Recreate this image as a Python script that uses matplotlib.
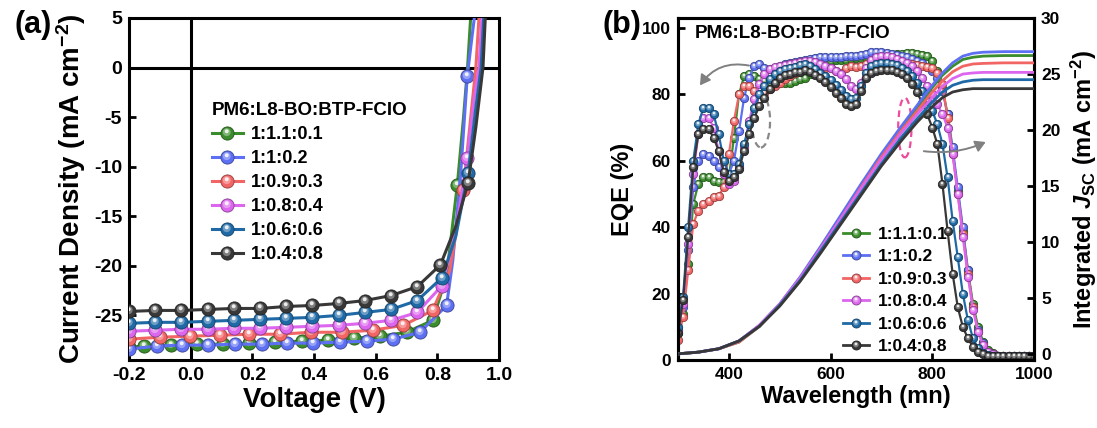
import numpy as np
import matplotlib
matplotlib.use("Agg")
import matplotlib.pyplot as plt
from matplotlib.path import Path
from matplotlib.lines import Line2D
from matplotlib.patches import Ellipse, FancyArrowPatch

plt.rcParams['font.family'] = ['Liberation Sans', 'DejaVu Sans']
plt.rcParams['font.weight'] = 'bold'
plt.rcParams['axes.labelweight'] = 'bold'
plt.rcParams['axes.unicode_minus'] = False
plt.rcParams['mathtext.fontset'] = 'custom'
plt.rcParams['mathtext.rm'] = 'Liberation Sans:bold'
plt.rcParams['mathtext.it'] = 'Liberation Sans:bold:italic'
plt.rcParams['mathtext.bf'] = 'Liberation Sans:bold'

# ---------------- data ----------------
labels = ['1:1.1:0.1', '1:1:0.2', '1:0.9:0.3', '1:0.8:0.4', '1:0.6:0.6', '1:0.4:0.8']
colors = ['#3a8c2c', '#5d6ff2', '#f26565', '#dc66ee', '#1f6aa6', '#383838']

# J-V curves (V in volts, J in mA cm^-2); markers at listed indices
jv_v_green = [-0.2, -0.15, -0.065, 0.02, 0.105, 0.19, 0.275, 0.36, 0.445, 0.53, 0.615, 0.70, 0.785, 0.83, 0.865, 0.885, 0.898, 0.91]
jv_j_green = [-28.2, -28.1, -28.0, -27.9, -27.9, -27.8, -27.7, -27.6, -27.5, -27.3, -27.1, -26.7, -25.5, -21.0, -11.8, -5.0, 0.0, 6.0]
jv_m_green = list(range(13)) + [14]

jv_v_blue = [-0.2, -0.11, -0.029, 0.057, 0.144, 0.23, 0.311, 0.398, 0.484, 0.571, 0.657, 0.744, 0.83, 0.85, 0.875, 0.897, 0.912, 0.924]
jv_j_blue = [-28.4, -28.1, -28.0, -28.0, -27.9, -27.9, -27.8, -27.8, -27.7, -27.6, -27.4, -26.7, -24.0, -19.5, -11.0, -0.9, 3.0, 6.0]
jv_m_blue = list(range(13)) + [15]

jv_v_red = [-0.2, -0.1, -0.003, 0.095, 0.19, 0.29, 0.39, 0.49, 0.59, 0.69, 0.785, 0.84, 0.884, 0.91, 0.925, 0.937]
jv_j_red = [-27.4, -27.2, -27.1, -27.0, -26.9, -26.9, -26.7, -26.7, -26.5, -26.0, -24.5, -20.5, -12.4, -4.5, 0.0, 6.0]
jv_m_red = list(range(11)) + [12]

jv_v_mag = [-0.2, -0.115, -0.03, 0.055, 0.14, 0.225, 0.31, 0.395, 0.48, 0.565, 0.65, 0.735, 0.815, 0.86, 0.897, 0.92, 0.935, 0.946]
jv_j_mag = [-26.6, -26.5, -26.4, -26.4, -26.3, -26.3, -26.2, -26.1, -26.0, -25.8, -25.5, -24.7, -22.0, -16.5, -9.1, -3.0, 0.0, 6.0]
jv_m_mag = list(range(13)) + [14]

jv_v_teal = [-0.2, -0.115, -0.03, 0.055, 0.14, 0.225, 0.31, 0.395, 0.48, 0.565, 0.65, 0.735, 0.815, 0.86, 0.9, 0.925, 0.942, 0.952]
jv_j_teal = [-25.8, -25.7, -25.7, -25.6, -25.5, -25.4, -25.3, -25.2, -25.0, -24.7, -24.4, -23.5, -21.2, -17.0, -10.6, -4.0, 0.0, 6.0]
jv_m_teal = list(range(13)) + [14]

jv_v_black = [-0.2, -0.115, -0.03, 0.055, 0.14, 0.225, 0.31, 0.395, 0.48, 0.565, 0.65, 0.735, 0.81, 0.86, 0.9, 0.925, 0.948, 0.957]
jv_j_black = [-24.6, -24.5, -24.5, -24.4, -24.3, -24.3, -24.1, -24.0, -23.8, -23.5, -23.0, -22.1, -19.9, -16.0, -11.6, -6.0, 0.0, 6.0]
jv_m_black = list(range(13)) + [14]

# EQE spectra, 300-1000 nm every 10 nm
wavelength = list(range(300, 1001, 10))
eqe_green = [8, 14, 29, 47, 53, 55, 55, 54, 53.5, 53.5,
             55, 67, 80, 85.5, 86, 85.5, 84.5, 84, 83.5, 83.3,
             83.3, 83.3, 83.5, 84, 84.5, 85, 86, 87.5, 89, 89.5,
             90, 90.3, 90.5, 90.5, 90.8, 91, 91, 91.3, 91.5, 91.8,
             92, 92, 92, 92.2, 92.3, 92.4, 92.5, 92.3, 92, 91.5,
             90, 87, 82, 74, 63, 51, 39, 27, 17, 10,
             5.5, 3, 2, 1.3, 1.3, 1.3, 1.3, 1.3, 1.3, 1.3, 1.3]
eqe_blue = [9, 16, 33, 52, 60, 62, 61.5, 60, 58, 56,
            56, 60, 69, 79, 85, 88.5, 89, 88, 87.5, 88,
            88.5, 89, 89.5, 89.8, 90.2, 90.5, 90.8, 91, 91.2, 91.3,
            91.3, 91.3, 91.3, 91.5, 91.5, 91.5, 92, 92.3, 92.7, 92.7,
            92.7, 92.5, 92.3, 92, 91.7, 91.3, 90.8, 90.2, 89.3, 88.3,
            87, 85, 81, 74, 64, 52, 40, 27, 16, 9,
            5, 2.5, 1.8, 1.3, 1.3, 1.3, 1.3, 1.3, 1.3, 1.3, 1.3]
eqe_red = [6, 13, 27, 41, 45, 47, 48, 49, 49.5, 52,
           62, 72, 80, 82.5, 82.5, 81, 80, 80.5, 81.5, 82.5,
           83.5, 84.5, 85.5, 86.5, 87.3, 88, 88.3, 88.3, 88.2, 88,
           87.8, 87, 86.5, 88, 88.5, 88.3, 88.5, 89, 89.3, 89.5,
           89.5, 89.5, 89.5, 89.5, 89.3, 89, 89, 88.8, 88.5, 88.2,
           87.8, 86.5, 83, 73, 62, 50, 38, 26, 16, 8.5,
           4.5, 2.5, 1.8, 1.3, 1.3, 1.3, 1.3, 1.3, 1.3, 1.3, 1.3]
eqe_mag = [9, 17, 35, 56, 68, 73, 73, 70, 63, 56,
           53, 54, 58, 64, 72, 78.5, 83, 86, 87.5, 88.2,
           88.5, 88.8, 89, 89.3, 89.6, 90, 90, 89.6, 89, 88.5,
           88, 87, 86, 84.5, 82.5, 81.5, 83.5, 88, 90.5, 91.2,
           91.5, 91.5, 91.2, 90.8, 90.2, 89.5, 88.5, 87, 85, 82.5,
           80, 77, 74, 70, 62, 50, 37, 25, 15, 8.5,
           4.5, 2.5, 1.8, 1.3, 1.3, 1.3, 1.3, 1.3, 1.3, 1.3, 1.3]
eqe_teal = [10, 19, 40, 60, 71, 76, 76, 74, 68, 60,
            56, 56, 59, 65, 71, 76, 80, 82.5, 84.5, 86,
            87, 87.5, 88, 88.3, 88.7, 89, 88.5, 87.5, 86.5, 85.5,
            84.3, 82.8, 81.3, 79.5, 78.5, 78.8, 82.5, 86.5, 88.5, 89,
            89.3, 89.3, 89, 88.7, 88, 87, 85.5, 83.5, 81, 78,
            75, 71, 65, 55, 42, 31, 20, 12, 6.5, 3.5,
            2, 1.5, 1.3, 1.3, 1.3, 1.3, 1.3, 1.3, 1.3, 1.3, 1.3]
eqe_black = [8, 18, 37, 58, 68, 69.5, 69.5, 67, 63, 56.5,
             54, 55, 57.5, 63, 68, 73, 76.5, 79, 81.5, 83.5,
             85, 85.7, 86.2, 86.6, 86.8, 87.2, 86.8, 85.8, 85, 83.6,
             82.2, 80.5, 79, 77.2, 76.5, 77, 81, 85, 86.5, 87,
             87.3, 87.3, 87.2, 86.8, 86, 85, 83, 80.6, 77.5, 74,
             70, 65, 53, 39, 26, 16, 10, 6.5, 4, 2.5,
             1.8, 1.3, 1.3, 1.3, 1.3, 1.3, 1.3, 1.3, 1.3, 1.3, 1.3]

# Integrated Jsc (mA cm^-2)
wl_jsc = [300, 340, 380, 420, 460, 500, 540, 580, 620, 660, 700, 740, 770, 800, 820, 840, 860, 880, 900, 940, 1000]
jsc_green = [0.05, 0.2, 0.5, 1.1, 2.5, 4.4, 6.7, 9.4, 12.2, 15.0, 17.7, 20.2, 22.0, 23.8, 24.9, 25.7, 26.3, 26.5, 26.6, 26.65, 26.65]
jsc_blue = [0.05, 0.2, 0.5, 1.2, 2.6, 4.5, 6.9, 9.6, 12.4, 15.2, 17.9, 20.4, 22.2, 24.0, 25.1, 26.0, 26.6, 26.85, 26.95, 27.0, 27.0]
jsc_red = [0.05, 0.2, 0.5, 1.1, 2.5, 4.4, 6.7, 9.4, 12.1, 14.9, 17.6, 20.0, 21.7, 23.4, 24.4, 25.2, 25.7, 25.9, 25.95, 26.0, 26.0]
jsc_mag = [0.05, 0.2, 0.5, 1.2, 2.6, 4.5, 6.8, 9.4, 12.1, 14.8, 17.4, 19.8, 21.4, 22.9, 23.9, 24.6, 25.0, 25.1, 25.15, 25.15, 25.15]
jsc_teal = [0.05, 0.2, 0.5, 1.2, 2.5, 4.4, 6.6, 9.2, 11.8, 14.4, 17.0, 19.4, 21.0, 22.5, 23.4, 24.0, 24.3, 24.45, 24.5, 24.5, 24.5]
jsc_black = [0.05, 0.2, 0.5, 1.2, 2.5, 4.3, 6.5, 9.0, 11.6, 14.2, 16.8, 19.1, 20.7, 22.1, 22.9, 23.4, 23.6, 23.7, 23.7, 23.7, 23.7]

jv_v = [jv_v_green, jv_v_blue, jv_v_red, jv_v_mag, jv_v_teal, jv_v_black]
jv_j = [jv_j_green, jv_j_blue, jv_j_red, jv_j_mag, jv_j_teal, jv_j_black]
jv_m = [jv_m_green, jv_m_blue, jv_m_red, jv_m_mag, jv_m_teal, jv_m_black]
eqe = [eqe_green, eqe_blue, eqe_red, eqe_mag, eqe_teal, eqe_black]
jsc = [jsc_green, jsc_blue, jsc_red, jsc_mag, jsc_teal, jsc_black]

# ---------------- helpers ----------------
def hl_marker(cx, cy, r):
    anchor = Path([[0.5, 0.5], [0.5, 0.5]], [Path.MOVETO, Path.LINETO])
    return Path.make_compound_path(anchor, Path.circle((cx, cy), r))

HL1 = hl_marker(-0.06, 0.10, 0.30)
HL2 = hl_marker(-0.06, 0.17, 0.15)

def darker(c, f=0.6):
    r, g, b = matplotlib.colors.to_rgb(c)
    return (r * f, g * f, b * f)

def ball_series(ax, x, y, color, ms, lw, mark_idx=None, z=2):
    x = np.asarray(x, float); y = np.asarray(y, float)
    if mark_idx is None:
        mark_idx = np.arange(len(x))
    ax.plot(x, y, '-', color=color, lw=lw, zorder=z)
    mx, my = x[mark_idx], y[mark_idx]
    ax.plot(mx, my, 'o', ms=ms, mfc=color, mec=darker(color), mew=0.6, ls='none', zorder=z + 0.1)
    ax.plot(mx, my, ls='none', marker=HL1, ms=ms, mfc='white', mew=0, alpha=0.35, zorder=z + 0.2)
    ax.plot(mx, my, ls='none', marker=HL2, ms=ms, mfc='white', mew=0, alpha=0.85, zorder=z + 0.3)

def legend_handles(ms, lw):
    hs = []
    for c in colors:
        h0 = Line2D([], [], color=c, lw=lw, marker='o', ms=ms, mfc=c, mec=darker(c), mew=0.6)
        h1 = Line2D([], [], ls='none', marker=HL1, ms=ms, mfc='white', mew=0, alpha=0.35)
        h2 = Line2D([], [], ls='none', marker=HL2, ms=ms, mfc='white', mew=0, alpha=0.85)
        hs.append((h0, h1, h2))
    return hs

def style_axes(ax, tsize):
    for s in ax.spines.values():
        s.set_linewidth(2.2)
    ax.tick_params(direction='in', width=2, length=5, labelsize=tsize, pad=5)

# ---------------- figure ----------------
fig = plt.figure(figsize=(10.97, 4.28), dpi=100)
W, H = 1097, 428
axa = fig.add_axes([129 / W, 1 - 360 / H, 370 / W, 342 / H])
axb = fig.add_axes([678 / W, 1 - 360 / H, 356 / W, 342 / H])

# Panel (a)
for i in range(6):
    ball_series(axa, jv_v[i], jv_j[i], colors[i], ms=9.5, lw=2.2, mark_idx=jv_m[i], z=2 + i)
axa.axhline(0, color='black', lw=2.2, zorder=1)
axa.axvline(0, color='black', lw=2.2, zorder=1)
axa.set_xlim(-0.2, 1.0)
axa.set_ylim(-29.5, 5)
axa.set_xticks(np.arange(-0.2, 1.01, 0.2))
axa.set_xticklabels([f'{t:.1f}' for t in np.arange(-0.2, 1.01, 0.2)])
axa.set_yticks([5, 0, -5, -10, -15, -20, -25])
style_axes(axa, 14)
axa.set_xlabel('Voltage (V)', fontsize=20, labelpad=2)
axa.set_ylabel('Current Density (mA cm$^{-2}$)', fontsize=20, labelpad=4)
lga = axa.legend(legend_handles(9.5, 2.2), labels, loc='upper left',
                 bbox_to_anchor=(0.19, 0.791), frameon=False, fontsize=13,
                 title='PM6:L8-BO:BTP-FCIO', title_fontproperties={'weight': 'bold', 'size': 13.5},
                 alignment='left', handlelength=1.7, handletextpad=0.45,
                 labelspacing=0.39, borderpad=0.2, numpoints=1)

# Panel (b)
for i in range(6):
    ball_series(axb, wavelength, eqe[i], colors[i], ms=6, lw=1.6, z=2 + i)
axb.set_xlim(300, 1000)
axb.set_ylim(0, 103)
axb.set_xticks([400, 600, 800, 1000])
axb.set_yticks([0, 20, 40, 60, 80, 100])
style_axes(axb, 12.5)
axb.set_xlabel('Wavelength (mn)', fontsize=17, labelpad=2)
axb.set_ylabel('EQE (%)', fontsize=17, labelpad=6)

axr = axb.twinx()
for i in range(6):
    axr.plot(wl_jsc, jsc[i], '-', color=colors[i], lw=2.0, zorder=2 + i)
axr.set_ylim(-0.5, 30)
axr.set_yticks([0, 5, 10, 15, 20, 25, 30])
style_axes(axr, 12.5)
axr.set_ylabel('Integrated $\\mathit{J}_{\\mathrm{SC}}$ (mA cm$^{-2}$)', fontsize=17,
               rotation=90, labelpad=6)

axb.text(0.048, 0.955, 'PM6:L8-BO:BTP-FCIO', transform=axb.transAxes, fontsize=13.5,
         fontweight='bold', va='center', ha='left')

lgb = axr.legend(legend_handles(6.5, 2.0), labels, loc='upper left',
                 bbox_to_anchor=(0.43, 0.425), frameon=False, fontsize=12.5,
                 handlelength=1.5, handletextpad=0.5, labelspacing=0.42,
                 borderpad=0.2, numpoints=1)

# annotations
axb.add_patch(Ellipse((463, 72), 36, 16, angle=0, fill=False, ls=(0, (3, 2)),
                      ec='#888888', lw=1.6, zorder=1.5))
axb.add_patch(Ellipse((746, 70), 26, 18, angle=0, fill=False, ls=(0, (3, 2)),
                      ec='#ee4c9c', lw=1.6, zorder=8.5))
axb.add_patch(FancyArrowPatch((445, 88.5), (340, 82), connectionstyle='arc3,rad=0.35',
                              arrowstyle='-|>,head_length=6,head_width=3.5', color='#808080',
                              lw=1.4, zorder=9))
axb.add_patch(FancyArrowPatch((778, 63), (910, 66), connectionstyle='arc3,rad=0.15',
                              arrowstyle='-|>,head_length=6,head_width=3.5', color='#808080',
                              lw=1.4, zorder=9))

fig.text(15 / W, 1 - 25 / H, '(a)', fontsize=22, fontweight='bold', va='center', ha='left')
fig.text(602 / W, 1 - 25 / H, '(b)', fontsize=22, fontweight='bold', va='center', ha='left')

fig.savefig('out.png', dpi=100)
